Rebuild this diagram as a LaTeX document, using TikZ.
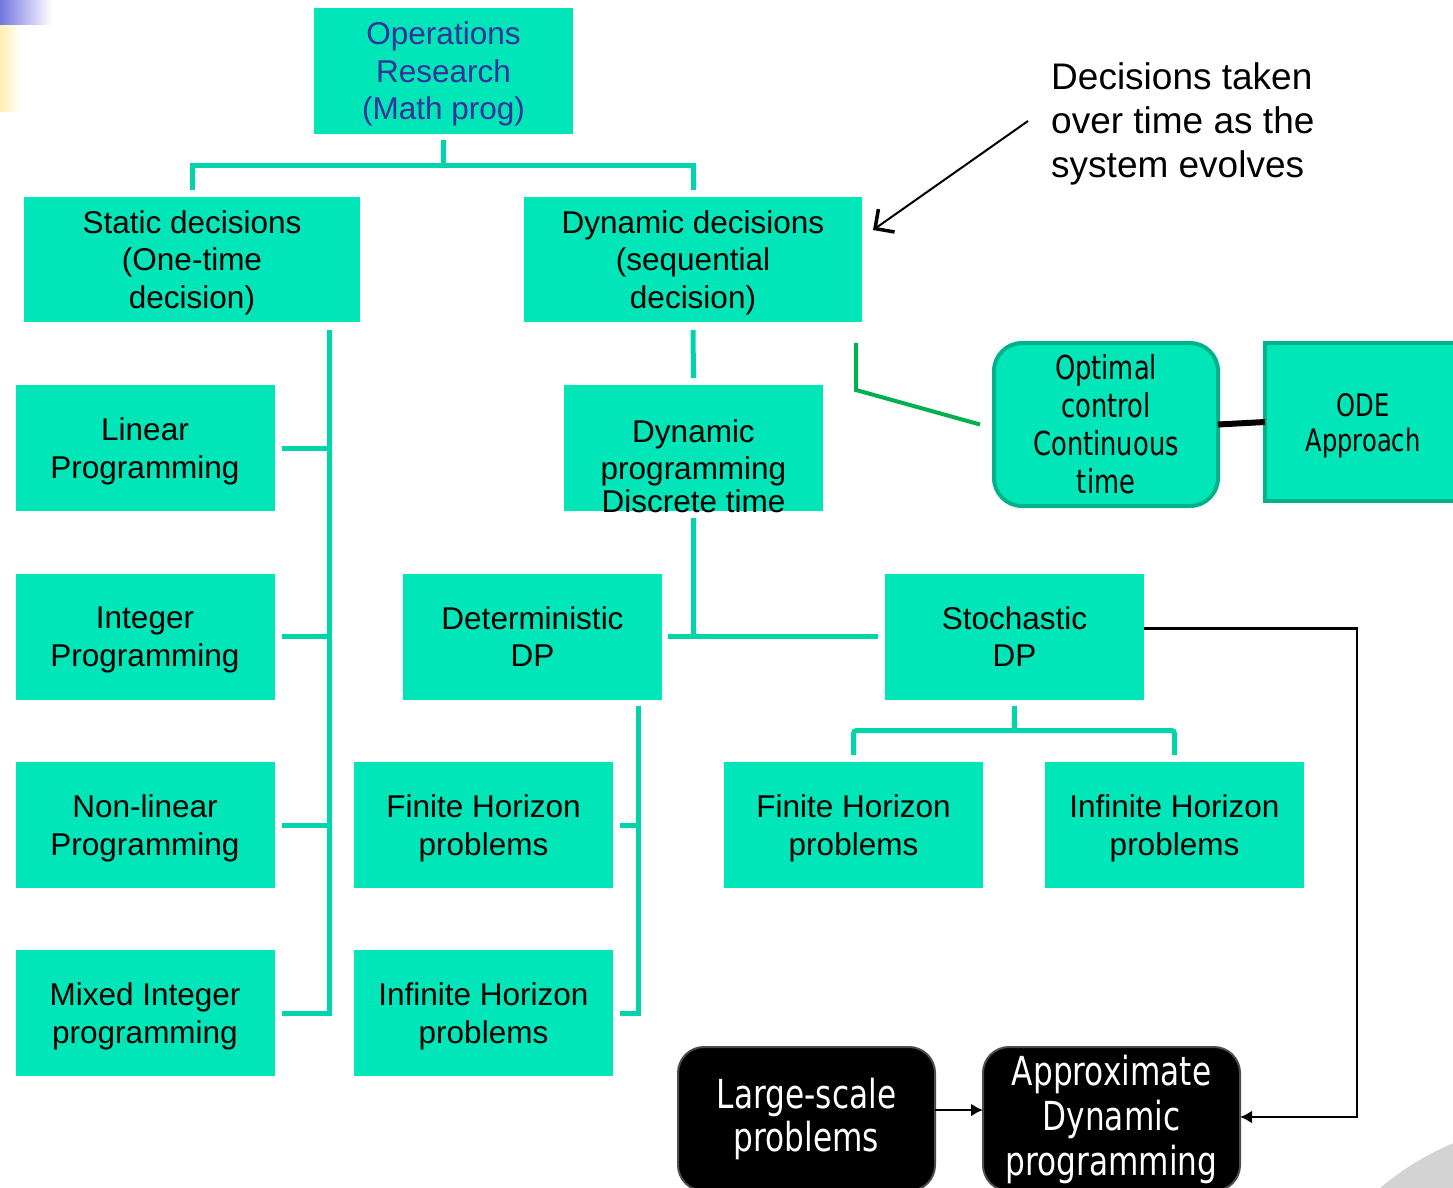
\documentclass[tikz,border=0pt]{standalone}
\usepackage{fontspec}
\setmainfont{Liberation Sans}
\newfontfamily\condfont[FakeStretch=0.78]{DejaVu Sans}
\usetikzlibrary{arrows.meta,calc}

\definecolor{boxfill}{RGB}{0,230,184}
\definecolor{linkcol}{RGB}{0,212,170}
\definecolor{ocgreen}{RGB}{0,176,80}
\definecolor{ocedge}{RGB}{0,178,140}
\definecolor{orblue}{RGB}{51,51,153}
\definecolor{bargrey}{RGB}{211,211,211}
\definecolor{barblue}{RGB}{118,118,226}
\definecolor{baryellow}{RGB}{255,240,178}

\begin{document}
\begin{tikzpicture}[x=1pt,y=-1pt,
  tbox/.style={fill=boxfill, draw=none, inner sep=0pt, outer sep=0pt,
    minimum width=259pt, minimum height=126pt, align=center, text depth=0pt,
    font=\fontsize{31.5}{37.5}\selectfont},
  conn/.style={draw=linkcol, line width=5pt},
  roundbox/.style={fill=boxfill, draw=ocedge, line width=4pt, rounded corners=28pt,
    inner sep=0pt, outer sep=0pt, minimum width=224pt, minimum height=163pt,
    align=center, font=\condfont\fontsize{33}{38}\selectfont},
  odebox/.style={fill=boxfill, draw=ocedge, line width=4pt,
    inner sep=0pt, outer sep=0pt, minimum width=196pt, minimum height=158pt,
    align=center, text depth=0pt, font=\condfont\fontsize{31}{35}\selectfont},
  blackbox/.style={fill=black, draw=black!70, line width=2pt, rounded corners=26pt,
    inner sep=0pt, outer sep=0pt, minimum width=257pt, minimum height=144pt,
    align=center, text=white},
  blackarrow/.style={draw=black, line width=2.5pt, -{Latex[length=12pt,width=13pt]}},
]
\useasboundingbox (0,0) rectangle (1453,1188);
\clip (0,0) rectangle (1453,1188);

% corner decoration and grey disc
\shade[left color=barblue, right color=white] (0,0) rectangle (52,25);
\shade[left color=baryellow, right color=white] (0,26) rectangle (21,112);
\fill[bargrey] (1560,1400) circle (278);

% root
\node[tbox, text=orblue] (or) at (443.5,71) {Operations\\ Research\\(Math prog)};

% first level
\node[tbox, minimum width=336pt, minimum height=125pt] (st) at (192,259.5)
  {Static decisions\\(One-time\\decision)};
\node[tbox, minimum width=338pt, minimum height=125pt] (dyn) at (693,259.5)
  {Dynamic decisions\\(sequential\\decision)};

% static branch
\node[tbox] (lp)  at (145,448)    {Linear\\Programming};
\node[tbox] (ip)  at (145,636.5)  {Integer\\Programming};
\node[tbox] (nlp) at (145,825)    {Non-linear\\Programming};
\node[tbox] (mip) at (145,1013)   {Mixed Integer\\programming};

% dynamic branch
\node[tbox] (dp) at (693.5,448) {};
\node[inner sep=0pt, align=center, font=\fontsize{31.5}{37.5}\selectfont] (dplab)
  at (693.5,466) {Dynamic\\programming\\[-5pt]Discrete time};
\node[tbox] (ddp)  at (532.5,636.5)  {Deterministic\\DP};
\node[tbox] (sdp)  at (1014.5,636.5) {Stochastic\\DP};
\node[tbox] (dfin) at (483.5,825)    {Finite Horizon\\problems};
\node[tbox] (dinf) at (483.5,1013)   {Infinite Horizon\\problems};
\node[tbox] (sfin) at (853.5,825)    {Finite Horizon\\problems};
\node[tbox] (sinf) at (1174.5,825)   {Infinite Horizon\\problems};

% continuous time
\node[roundbox] (oc) at (1106,424.5) {Optimal\\control\\Continuous\\time};
\node[odebox] (ode) at (1363,422) {ODE\\Approach};

% large-scale part
\node[blackbox, font=\condfont\fontsize{40}{43}\selectfont] (large) at (806.5,1119)
  {Large-scale\\problems};
\node[blackbox, font=\condfont\fontsize{40}{45}\selectfont] (adp) at (1111.5,1119)
  {Approximate\\Dynamic\\programming};

% annotation
\node[anchor=west, align=left, inner sep=0pt, font=\fontsize{37}{44}\selectfont] (note)
  at (1051,124) {Decisions taken\\over time as the\\system evolves};
\draw[line width=2pt, -{Straight Barb[length=14pt,width=28pt,line width=3.5pt]}]
  ([xshift=-23pt,yshift=3pt]note.west) -- ([xshift=11pt,yshift=-33pt]dyn.north east);

% root connectors
\draw[conn] ([yshift=-6pt]or.south) -- ++(0,25) coordinate (hub);
\draw[conn] ([yshift=7pt]st.north) |- (hub) -| ([yshift=7pt]dyn.north);

% static spine
\coordinate (ls) at (329,330);
\draw[conn] (ls) |- ([xshift=7pt]mip.east);
\draw[conn] ([xshift=7pt]lp.east) -- (lp.east -| ls);
\draw[conn] ([xshift=7pt]ip.east) -- (ip.east -| ls);
\draw[conn] ([xshift=7pt]nlp.east) -- (nlp.east -| ls);

% dynamic programming connectors
\draw[conn] ([yshift=-8pt]dyn.south) -- ([yshift=7pt]dp.north);
\draw[conn] ([yshift=-7pt]dp.south) -- (dp.south |- ddp.east);
\draw[conn] ([xshift=6pt]ddp.east) -- ([xshift=-7pt]sdp.west);

% deterministic subtree
\coordinate (ds) at (638,706);
\draw[conn] (ds) |- ([xshift=7pt]dinf.east);
\draw[conn] ([xshift=7pt]dfin.east) -- (dfin.east -| ds);

% stochastic subtree
\draw[conn] ([yshift=-6pt]sdp.south) -- ++(0,25) coordinate (shub);
\draw[conn, rounded corners=3pt] ([yshift=7pt]sfin.north) |- (shub) -| ([yshift=7pt]sinf.north);

% link to optimal control
\draw[draw=ocgreen, line width=4pt] (856,343) -- (856,390) -- ([xshift=-14pt]oc.west);
\draw[line width=6pt] (oc.east) -- (ode.west);

% arrows into approximate DP
\draw[blackarrow] ([yshift=8pt]sdp.east) -- ++(213,0) |- ([yshift=2pt]adp.east);
\draw[blackarrow] ([yshift=9pt]large.east) -- ([yshift=9pt]adp.west);
\end{tikzpicture}
\end{document}
